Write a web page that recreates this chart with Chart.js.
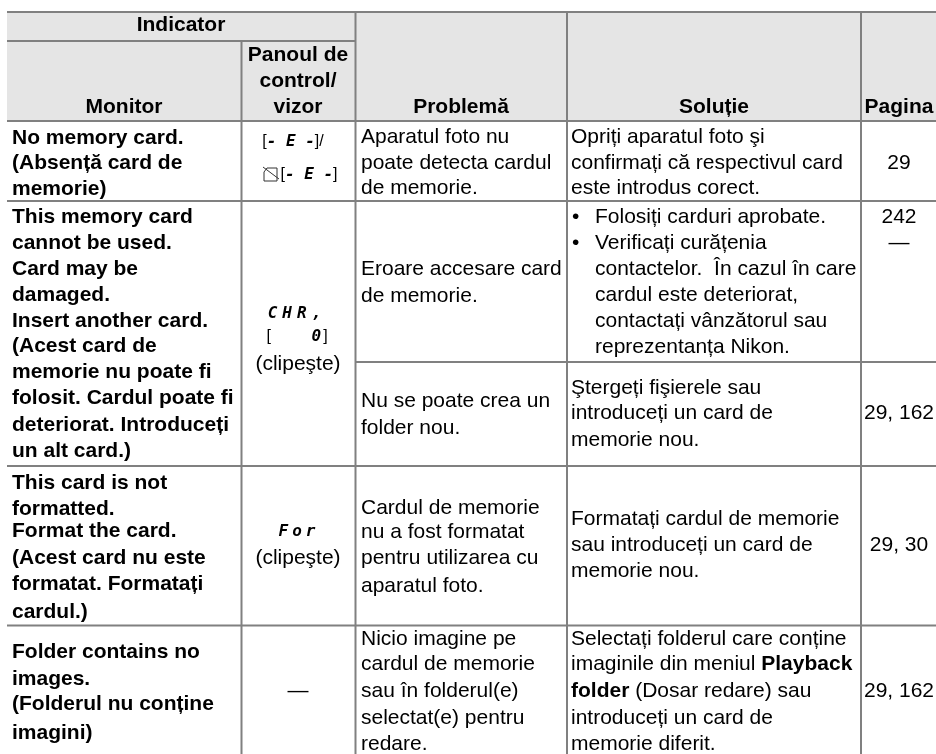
<!DOCTYPE html>
<html>
<head>
<meta charset="utf-8">
<style>
  html, body { margin: 0; padding: 0; background: #fff; }
  canvas { display: block; }
</style>
<script src="https://cdn.jsdelivr.net/npm/chart.js@4/dist/chart.umd.min.js"></script>
</head>
<body>
<canvas id="tableChart" width="936" height="754"></canvas>
<script>
// table text
const headGroup = ['Indicator'];
const headMonitor = ['Monitor'];
const headPanel = ['Panoul de', 'control/', 'vizor'];
const headProblem = ['Problemă'];
const headSolution = ['Soluție'];
const headPage = ['Pagina'];

const monitor1 = ['No memory card.', '(Absență card de', 'memorie)'];
const monitor2 = ['This memory card', 'cannot be used.', 'Card may be', 'damaged.', 'Insert another card.', '(Acest card de', 'memorie nu poate fi', 'folosit. Cardul poate fi', 'deteriorat. Introduceți', 'un alt card.)'];
const monitor3 = ['This card is not', 'formatted.', 'Format the card.', '(Acest card nu este', 'formatat. Formatați', 'cardul.)'];
const monitor4 = ['Folder contains no', 'images.', '(Folderul nu conține', 'imagini)'];

const panel2 = ['(clipeşte)'];
const panel3 = ['(clipeşte)'];
const panel4 = ['—'];
const lcd1 = ['[*- E -*]/', '[*- E -*]'];
const lcd2 = ['*CHR,*', '[      *0*]'];
const lcd3 = ['*For*'];

const problem1 = ['Aparatul foto nu', 'poate detecta cardul', 'de memorie.'];
const problem2 = ['Eroare accesare card', 'de memorie.'];
const problem2b = ['Nu se poate crea un', 'folder nou.'];
const problem3 = ['Cardul de memorie', 'nu a fost formatat', 'pentru utilizarea cu', 'aparatul foto.'];
const problem4 = ['Nicio imagine pe', 'cardul de memorie', 'sau în folderul(e)', 'selectat(e) pentru', 'redare.'];

const solution1 = ['Opriți aparatul foto şi', 'confirmați că respectivul card', 'este introdus corect.'];
const solution2 = ['Folosiți carduri aprobate.', 'Verificați curățenia', 'contactelor.  În cazul în care', 'cardul este deteriorat,', 'contactați vânzătorul sau', 'reprezentanța Nikon.'];
const bullets2 = ['•', '•'];
const solution2b = ['Ştergeți fişierele sau', 'introduceți un card de', 'memorie nou.'];
const solution3 = ['Formatați cardul de memorie', 'sau introduceți un card de', 'memorie nou.'];
const solution4 = ['Selectați folderul care conține', 'imaginile din meniul *Playback*', '*folder* (Dosar redare) sau', 'introduceți un card de', 'memorie diferit.'];

const page1 = ['29'];
const page2 = ['242', '—'];
const page2b = ['29, 162'];
const page3 = ['29, 30'];
const page4 = ['29, 162'];

// rule positions
const colEdges = [7, 241.5, 355.5, 567, 861, 936];
const rowEdges = [12, 41, 121, 201, 466, 625.5, 754];
const splitRow = 362;

const ruleColor = '#808080';
const headFill = '#e5e5e5';
const fontSize = 21;
const sans = '"Liberation Sans", Arial, sans-serif';

function rule(x0, y0, x1, y1) {
    return {
        type: 'line',
        data: [{ x: x0, y: y0 }, { x: x1, y: y1 }],
        borderColor: ruleColor,
        borderWidth: 2,
        pointRadius: 0,
        borderCapStyle: 'butt',
        order: 1
    };
}

const datasets = [
    {
        type: 'line',
        data: [{ x: colEdges[0], y: rowEdges[0] }, { x: colEdges[5], y: rowEdges[0] }],
        borderWidth: 0,
        pointRadius: 0,
        backgroundColor: headFill,
        fill: { value: rowEdges[2] },
        order: 5
    },
    rule(colEdges[0], rowEdges[0], colEdges[5], rowEdges[0]),
    rule(colEdges[0], rowEdges[1], colEdges[2], rowEdges[1]),
    rule(colEdges[0], rowEdges[2], colEdges[5], rowEdges[2]),
    rule(colEdges[0], rowEdges[3], colEdges[5], rowEdges[3]),
    rule(colEdges[2], splitRow, colEdges[5], splitRow),
    rule(colEdges[0], rowEdges[4], colEdges[5], rowEdges[4]),
    rule(colEdges[0], rowEdges[5], colEdges[5], rowEdges[5]),
    rule(colEdges[1], rowEdges[1], colEdges[1], rowEdges[6]),
    rule(colEdges[2], rowEdges[0], colEdges[2], rowEdges[6]),
    rule(colEdges[3], rowEdges[0], colEdges[3], rowEdges[6]),
    rule(colEdges[4], rowEdges[0], colEdges[4], rowEdges[6])
];

// text blocks: lines, x, align, baselines, bold
const blocks = [
    [headGroup, 181, 'center', [31], true],
    [headMonitor, 124, 'center', [113], true],
    [headPanel, 298, 'center', [61, 87, 113], true],
    [headProblem, 461, 'center', [113], true],
    [headSolution, 714, 'center', [113], true],
    [headPage, 899, 'center', [113], true],

    [monitor1, 12, 'left', [144, 169, 195], true],
    [monitor2, 12, 'left', [223, 249, 275, 301, 327, 352, 378, 404, 431, 457], true],
    [monitor3, 12, 'left', [489, 515, 537, 564, 590, 618], true],
    [monitor4, 12, 'left', [658, 685, 710, 739], true],

    [panel2, 298, 'center', [370], false],
    [panel3, 298, 'center', [564], false],
    [panel4, 298, 'center', [697], false],

    [problem1, 361, 'left', [143, 169, 194], false],
    [problem2, 361, 'left', [275, 302], false],
    [problem2b, 361, 'left', [407, 434], false],
    [problem3, 361, 'left', [514, 538, 564, 592], false],
    [problem4, 361, 'left', [645, 670, 697, 724, 750], false],

    [solution1, 571, 'left', [143, 169, 194], false],
    [bullets2, 572, 'left', [223, 249], false],
    [solution2, 595, 'left', [223, 249, 275, 301, 327, 353], false],
    [solution2b, 571, 'left', [394, 419, 446], false],
    [solution3, 571, 'left', [525, 551, 577], false],
    [solution4, 571, 'left', [645, 670, 697, 724, 750], false],

    [page1, 899, 'center', [169], false],
    [page2, 899, 'center', [223, 249], false],
    [page2b, 899, 'center', [419], false],
    [page3, 899, 'center', [551], false],
    [page4, 899, 'center', [697], false]
];

// segment display glyphs in the panel column: lines, x, baselines, letter spacing
const lcdBlocks = [
    [lcd1, [293, 309], [146, 179], ['0px', '0px']],
    [lcd2, [297, 298], [318, 341], ['5px', '2px']],
    [lcd3, [299], [536], ['4px']]
];

function drawRuns(ctx, text, x, y, align, plainFont, boldFont, startBold, spacing) {
    const runs = text.split('*');
    ctx.letterSpacing = spacing || '0px';
    let total = 0;
    const fonts = runs.map((r, i) => ((i % 2 === 1) !== startBold ? boldFont : plainFont));
    runs.forEach((r, i) => { ctx.font = fonts[i]; total += ctx.measureText(r).width; });
    let cx = align === 'center' ? x - total / 2 : x;
    ctx.textAlign = 'left';
    runs.forEach((r, i) => {
        ctx.font = fonts[i];
        ctx.fillText(r, cx, y);
        cx += ctx.measureText(r).width;
    });
    ctx.letterSpacing = '0px';
}

const tableText = {
    id: 'tableText',
    afterDatasetsDraw(chart) {
        const { ctx, scales } = chart;
        const plain = fontSize + 'px ' + sans;
        const bold = 'bold ' + fontSize + 'px ' + sans;
        ctx.save();
        ctx.fillStyle = '#000';
        ctx.textBaseline = 'alphabetic';
        blocks.forEach(([lines, x, align, ys, isBold]) => {
            lines.forEach((line, i) => {
                drawRuns(ctx, line, scales.x.getPixelForValue(x), scales.y.getPixelForValue(ys[i]), align, plain, bold, isBold);
            });
        });
        const lcdPlain = '16px ' + sans;
        const lcdBold = 'italic bold 16px "DejaVu Sans Mono", monospace';
        lcdBlocks.forEach(([lines, xs, ys, gaps]) => {
            lines.forEach((line, i) => {
                drawRuns(ctx, line, scales.x.getPixelForValue(xs[i]), scales.y.getPixelForValue(ys[i]), 'center', lcdPlain, lcdBold, false, gaps[i]);
            });
        });
        // memory card symbol in front of the second display line
        const px = scales.x.getPixelForValue(263);
        const py = scales.y.getPixelForValue(167);
        ctx.strokeStyle = '#333';
        ctx.lineWidth = 1;
        ctx.beginPath();
        ctx.moveTo(px + 4, py + 1);
        ctx.lineTo(px + 14, py + 1);
        ctx.lineTo(px + 14, py + 14);
        ctx.lineTo(px + 1, py + 14);
        ctx.lineTo(px + 1, py + 5);
        ctx.closePath();
        ctx.moveTo(px, py);
        ctx.lineTo(px + 16, py + 12);
        ctx.stroke();
        ctx.restore();
    }
};

const myChart = new Chart(document.getElementById('tableChart'), {
    type: 'line',
    data: { datasets: datasets },
    options: {
        responsive: false,
        animation: false,
        parsing: false,
        events: [],
        layout: { padding: 0 },
        plugins: {
            legend: { display: false },
            title: { display: false },
            tooltip: { enabled: false }
        },
        scales: {
            x: { type: 'linear', display: false, min: 0, max: 936 },
            y: { type: 'linear', display: false, min: 0, max: 754, reverse: true }
        }
    },
    plugins: [tableText]
});
</script>
</body>
</html>
